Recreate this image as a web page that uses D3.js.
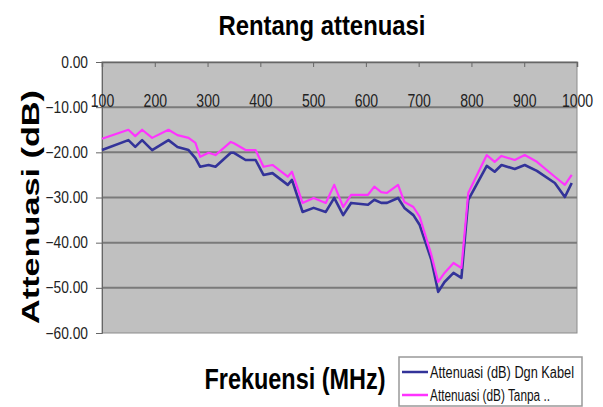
<!DOCTYPE html>
<html>
<head>
<meta charset="utf-8">
<script src="https://cdn.jsdelivr.net/npm/d3@7"></script>
<style>
  body { margin: 0; background: #fff; }
  text { font-family: "Liberation Sans Narrow", "Liberation Sans", Arial, sans-serif; }
</style>
</head>
<body>
<script>
// frekuensi (MHz) dan attenuasi (dB)
const freq = [100, 150, 163, 176, 195, 226, 243, 264, 277, 286, 302, 315, 344, 350, 372, 391,
  406, 423, 452, 460, 480, 501, 524, 540, 557, 572, 604, 616, 629, 640, 661, 673, 690, 702,
  724, 737, 749, 766, 781, 794, 829, 844, 857, 882, 901, 924, 958, 977, 990];
const dgnKabel = [-19.5, -17.3, -18.8, -17.3, -19.5, -17.3, -18.8, -19.5, -21.3, -23.2, -22.8, -23.2,
  -20.1, -20.1, -21.7, -21.7, -25.0, -24.6, -27.2, -26.1, -33.2, -32.3, -33.2, -30.1, -33.9, -31.2,
  -31.6, -30.5, -31.2, -31.2, -30.1, -32.3, -33.9, -36.1, -43.8, -50.9, -48.7, -46.7, -47.8, -30.5,
  -23.0, -24.3, -22.8, -23.7, -22.8, -24.1, -26.8, -29.9, -26.8];
const tanpa = [-17.0, -15.0, -16.4, -15.0, -16.8, -15.0, -16.2, -16.8, -17.9, -21.0, -20.1, -20.6,
  -17.7, -18.0, -19.5, -19.5, -23.2, -22.8, -25.4, -24.3, -31.2, -30.1, -31.2, -27.2, -32.1, -29.4,
  -29.4, -27.6, -28.8, -29.0, -27.2, -31.0, -32.1, -34.3, -42.7, -48.7, -46.7, -44.5, -45.6, -29.0,
  -20.6, -22.1, -20.8, -21.7, -20.6, -22.1, -25.4, -27.2, -25.0];
const xTicks = [100, 200, 300, 400, 500, 600, 700, 800, 900, 1000];
const yTicks = [0, -10, -20, -30, -40, -50, -60];
const seriesNames = ["Attenuasi (dB) Dgn Kabel", "Attenuasi (dB) Tanpa .."];

const w = 603, h = 407;
const mLeft = 102, mRight = 577, mTop = 62, mBottom = 333;

const svg = d3.select("body").append("svg")
  .attr("width", w).attr("height", h);

const x = d3.scaleLinear().domain([100, 1000]).range([mLeft, mRight]);
const y = d3.scaleLinear().domain([0, -60]).range([mTop, mBottom]);

// squeeze text to look like a narrow font
function narrow(sel, k) {
  sel.each(function() {
    const len = this.getComputedTextLength();
    d3.select(this).attr("textLength", len * k).attr("lengthAdjust", "spacingAndGlyphs");
  });
}

// plot area
svg.append("rect")
  .attr("x", mLeft).attr("y", mTop)
  .attr("width", mRight - mLeft).attr("height", mBottom - mTop)
  .attr("fill", "#c0c0c0")
  .attr("stroke", "#8c8c8c").attr("stroke-width", 1);

// grid
svg.append("g").selectAll("line")
  .data(yTicks.filter(d => d < 0 && d > -60))
  .enter().append("line")
  .attr("x1", mLeft).attr("x2", mRight)
  .attr("y1", d => y(d)).attr("y2", d => y(d))
  .attr("stroke", "#7a7a7a").attr("stroke-width", 2);

// y axis
const yAxis = svg.append("g")
  .attr("transform", `translate(${mLeft},0)`)
  .call(d3.axisLeft(y).tickValues(yTicks).tickSize(6).tickFormat(d3.format(".2f")));
yAxis.select(".domain").attr("stroke", "#666");
yAxis.selectAll(".tick line").attr("stroke", "#666");
yAxis.selectAll("text")
  .attr("x", -14)
  .style("font-size", "16px").attr("fill", "#222")
  .call(narrow, 0.86);

// x axis at top, labels inside plot
const xAxis = svg.append("g")
  .attr("transform", `translate(0,${mTop})`)
  .call(d3.axisBottom(x).tickValues(xTicks).tickSize(5).tickFormat(d3.format("d")));
xAxis.select(".domain").attr("stroke", "#666").attr("stroke-width", 1.5);
xAxis.selectAll(".tick line").attr("stroke", "#666");
xAxis.selectAll("text")
  .attr("y", 45).attr("dy", 0)
  .style("font-size", "18px").attr("fill", "#222")
  .call(narrow, 0.78);

// lines
const line = vals => d3.line()
  .x((d, i) => x(freq[i]))
  .y(d => y(d))(vals);

svg.append("path")
  .attr("d", line(dgnKabel))
  .attr("fill", "none").attr("stroke", "#333399")
  .attr("stroke-width", 2.6).attr("stroke-linejoin", "round");
svg.append("path")
  .attr("d", line(tanpa))
  .attr("fill", "none").attr("stroke", "#ff33ff")
  .attr("stroke-width", 2.2).attr("stroke-linejoin", "round");

// titles
svg.append("text")
  .attr("x", 322).attr("y", 35)
  .attr("text-anchor", "middle")
  .attr("textLength", 207).attr("lengthAdjust", "spacingAndGlyphs")
  .style("font-size", "28px").style("font-weight", "bold")
  .text("Rentang attenuasi");

svg.append("text")
  .attr("transform", "translate(39,207) rotate(-90)")
  .attr("text-anchor", "middle")
  .attr("textLength", 234).attr("lengthAdjust", "spacingAndGlyphs")
  .style("font-size", "23px").style("font-weight", "bold")
  .text("Attenuasi (dB)");

svg.append("text")
  .attr("x", 295).attr("y", 389)
  .attr("text-anchor", "middle")
  .attr("textLength", 181).attr("lengthAdjust", "spacingAndGlyphs")
  .style("font-size", "30px").style("font-weight", "bold")
  .text("Frekuensi (MHz)");

// legend (bottom runs off the picture, as in the original)
const lg = svg.append("g");
lg.append("rect")
  .attr("x", 399).attr("y", 357)
  .attr("width", 183).attr("height", 49)
  .attr("fill", "#fff").attr("stroke", "#999").attr("stroke-width", 1.5);
const colors = ["#333399", "#ff33ff"];
const legendLen = [144, 120];
seriesNames.forEach((name, i) => {
  const ly = 372 + i * 23;
  lg.append("line")
    .attr("x1", 402).attr("x2", 428)
    .attr("y1", ly).attr("y2", ly)
    .attr("stroke", colors[i]).attr("stroke-width", 2.5);
  lg.append("text")
    .attr("x", 430).attr("y", ly + 6)
    .attr("textLength", legendLen[i]).attr("lengthAdjust", "spacingAndGlyphs")
    .style("font-size", "16px").attr("fill", "#111")
    .text(name);
});
</script>
</body>
</html>
